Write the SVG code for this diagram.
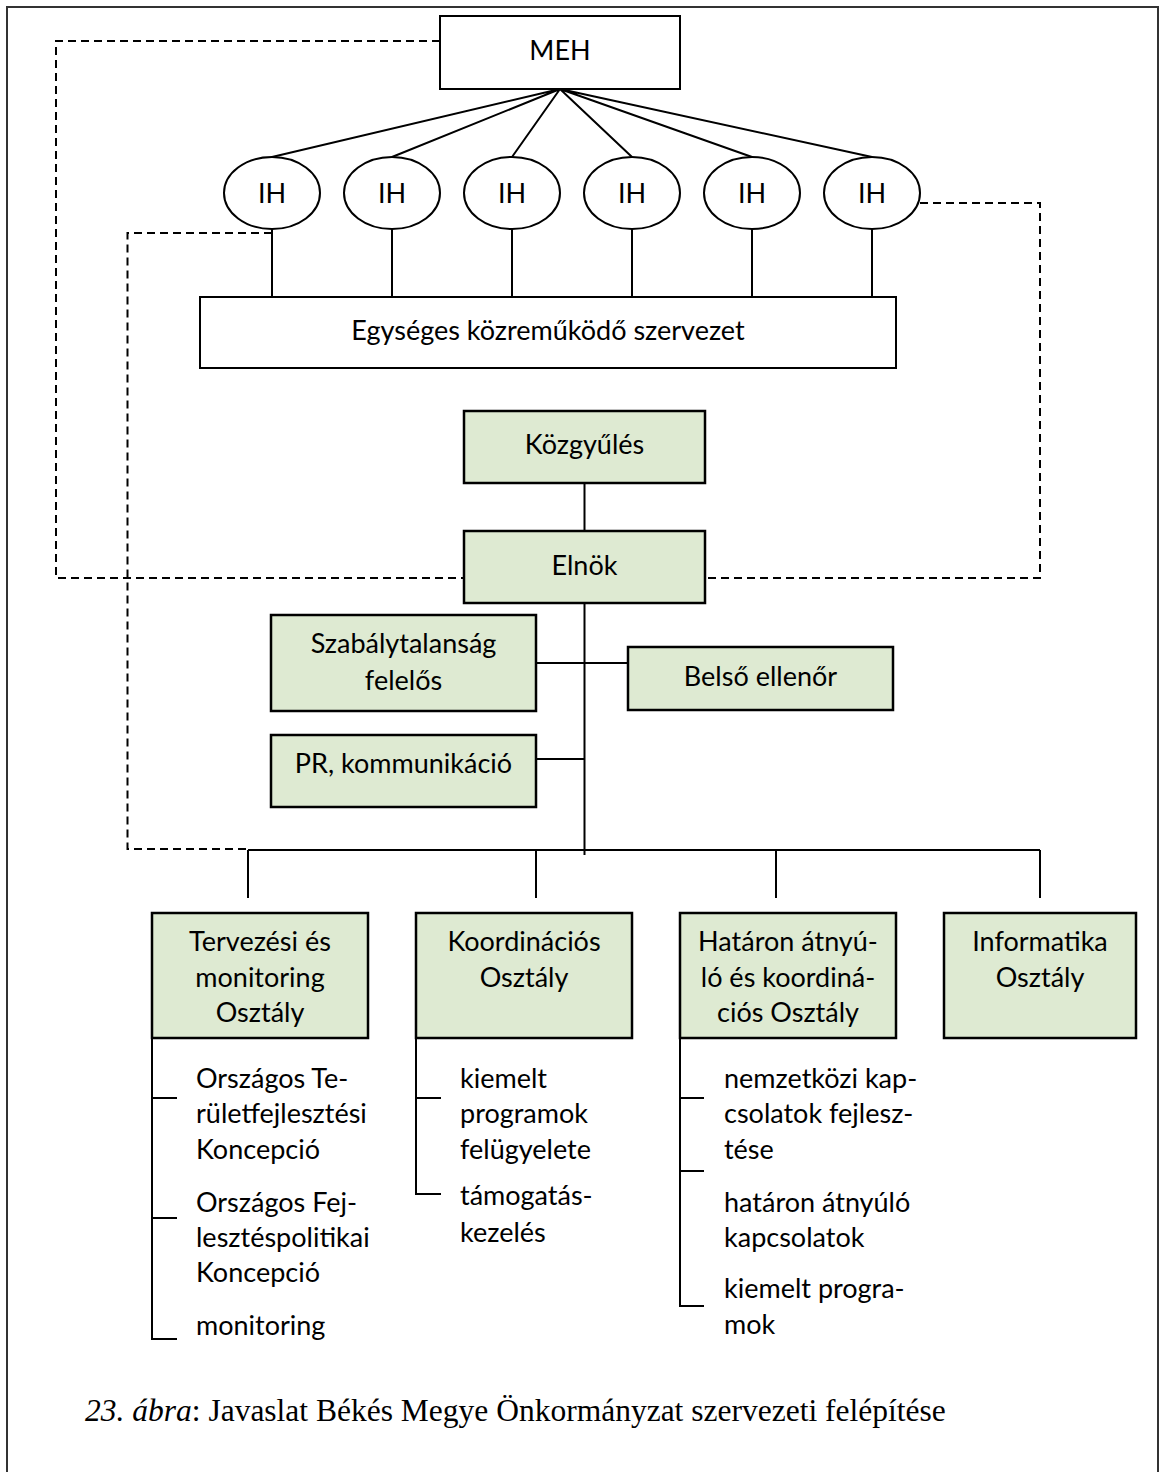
<svg xmlns="http://www.w3.org/2000/svg" width="1160" height="1472" viewBox="0 0 1160 1472">
<style>
.t{font-family:Lato,"Open Sans","Liberation Sans",sans-serif;font-size:27px;fill:#000}
.c{text-anchor:middle}
.box{fill:#fff;stroke:#000;stroke-width:2}
.g{fill:#DEEAD2;stroke:#000;stroke-width:2.5}
.ln{fill:none;stroke:#000;stroke-width:2}
.d{fill:none;stroke:#000;stroke-width:2;stroke-dasharray:8 5}
.cap{font-family:"Liberation Serif","Times New Roman",serif;font-size:31.5px;fill:#000}
</style>
<rect width="1160" height="1472" fill="#fff"/>
<path d="M7 1480 V7 H1158 V1480" fill="none" stroke="#333" stroke-width="2"/>
<g id="connectors">
<path class="d" d="M440 41 H56 V578 H464"/>
<path class="d" d="M272 233 H127.5 V849 H248"/>
<path class="d" d="M920 203 H1040 V578 H705"/>
<path class="ln" d="M560 89 L272 157 M560 89 L392 157 M560 89 L512 157 M560 89 L632 157 M560 89 L752 157 M560 89 L872 157"/>
<path class="ln" d="M272 229 V299 M392 229 V299 M512 229 V299 M632 229 V299 M752 229 V299 M872 229 V299"/>
<path class="ln" d="M584.5 483 V531 M584.5 603 V855 M536 663 H632 M536 759 H584.5 M248 850 H1040 M248 850 V898 M536 850 V898 M776 850 V898 M1040 850 V898"/>
<path class="ln" d="M152 1038 V1339 H177 M152 1098 H177 M152 1218 H177"/>
<path class="ln" d="M416 1038 V1194 H441 M416 1098 H441"/>
<path class="ln" d="M680 1038 V1306 H704 M680 1098 H704 M680 1171 H704"/>
</g>
<g id="meh"><rect class="box" x="440" y="16" width="240" height="73"/><text class="t c" x="560" y="60">MEH</text></g>
<g id="ih1"><ellipse class="box" cx="272" cy="193" rx="48" ry="36"/><text class="t c" x="272" y="203">IH</text></g>
<g id="ih2"><ellipse class="box" cx="392" cy="193" rx="48" ry="36"/><text class="t c" x="392" y="203">IH</text></g>
<g id="ih3"><ellipse class="box" cx="512" cy="193" rx="48" ry="36"/><text class="t c" x="512" y="203">IH</text></g>
<g id="ih4"><ellipse class="box" cx="632" cy="193" rx="48" ry="36"/><text class="t c" x="632" y="203">IH</text></g>
<g id="ih5"><ellipse class="box" cx="752" cy="193" rx="48" ry="36"/><text class="t c" x="752" y="203">IH</text></g>
<g id="ih6"><ellipse class="box" cx="872" cy="193" rx="48" ry="36"/><text class="t c" x="872" y="203">IH</text></g>
<g id="eksz"><rect class="box" x="200" y="297" width="696" height="71"/><text class="t c" x="548" y="340">Egységes közreműködő szervezet</text></g>
<g id="kozgyules"><rect class="g" x="464" y="411" width="241" height="72"/><text class="t c" x="584.5" y="454">Közgyűlés</text></g>
<g id="elnok"><rect class="g" x="464" y="531" width="241" height="72"/><text class="t c" x="584.5" y="575">Elnök</text></g>
<g id="szabaly"><rect class="g" x="271" y="615" width="265" height="96"/><text class="t c" x="403.5" y="653">Szabálytalanság</text><text class="t c" x="403.5" y="690">felelős</text></g>
<g id="belso"><rect class="g" x="628" y="647" width="265" height="63"/><text class="t c" x="760.5" y="686">Belső ellenőr</text></g>
<g id="pr"><rect class="g" x="271" y="735" width="265" height="72"/><text class="t c" x="403.5" y="773">PR, kommunikáció</text></g>
<g id="tervezesi"><rect class="g" x="152" y="913" width="216" height="125"/><text class="t c" x="260" y="951">Tervezési és</text><text class="t c" x="260" y="987">monitoring</text><text class="t c" x="260" y="1022">Osztály</text></g>
<g id="koord"><rect class="g" x="416" y="913" width="216" height="125"/><text class="t c" x="524" y="951">Koordinációs</text><text class="t c" x="524" y="987">Osztály</text></g>
<g id="hataron"><rect class="g" x="680" y="913" width="216" height="125"/><text class="t c" x="788" y="951">Határon átnyú-</text><text class="t c" x="788" y="987">ló és koordiná-</text><text class="t c" x="788" y="1022">ciós Osztály</text></g>
<g id="informatika"><rect class="g" x="944" y="913" width="192" height="125"/><text class="t c" x="1040" y="951">Informatika</text><text class="t c" x="1040" y="987">Osztály</text></g>
<g id="list-tervezesi">
<text class="t" x="196" y="1088">Országos Te-</text><text class="t" x="196" y="1123">rületfejlesztési</text><text class="t" x="196" y="1159">Koncepció</text>
<text class="t" x="196" y="1212">Országos Fej-</text><text class="t" x="196" y="1247">lesztéspolitikai</text><text class="t" x="196" y="1282">Koncepció</text>
<text class="t" x="196" y="1335">monitoring</text>
</g>
<g id="list-koord">
<text class="t" x="460" y="1088">kiemelt</text><text class="t" x="460" y="1123">programok</text><text class="t" x="460" y="1159">felügyelete</text>
<text class="t" x="460" y="1205">támogatás-</text><text class="t" x="460" y="1242">kezelés</text>
</g>
<g id="list-hataron">
<text class="t" x="724" y="1088">nemzetközi kap-</text><text class="t" x="724" y="1123">csolatok fejlesz-</text><text class="t" x="724" y="1159">tése</text>
<text class="t" x="724" y="1212">határon átnyúló</text><text class="t" x="724" y="1247">kapcsolatok</text>
<text class="t" x="724" y="1298">kiemelt progra-</text><text class="t" x="724" y="1334">mok</text>
</g>
<text class="cap" x="85" y="1421"><tspan font-style="italic">23. ábra</tspan>: Javaslat Békés Megye Önkormányzat szervezeti felépítése</text>
</svg>
